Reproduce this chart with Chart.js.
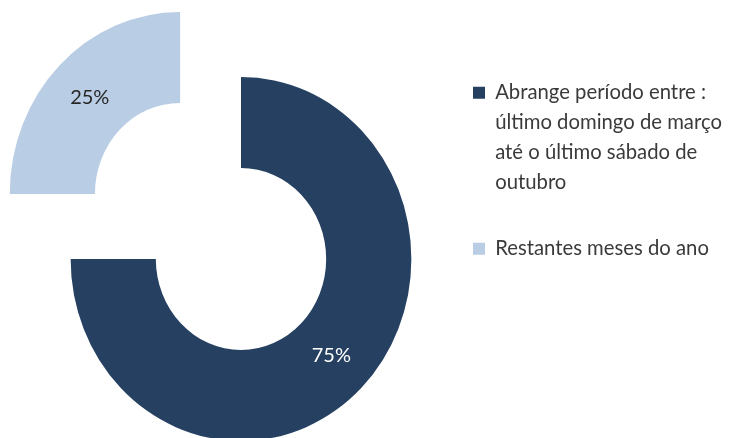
<!DOCTYPE html>
<html>
<head>
<meta charset="utf-8">
<script src="https://cdn.jsdelivr.net/npm/chart.js@4.4.1/dist/chart.umd.min.js"></script>
<style>
  html, body { margin: 0; padding: 0; background: #ffffff; overflow: hidden; }
  #wrap { position: relative; width: 741px; height: 438px; overflow: hidden; }
  #wrap canvas { position: absolute; left: 0; top: 0; }
</style>
</head>
<body>
<div id="wrap"><canvas id="chart" width="741" height="480"></canvas></div>
<script>
// Categories (legend entries; the first one spans several lines)
const categories = [
  ['Abrange período entre :', 'último domingo de março', 'até o último sábado de', 'outubro'],
  'Restantes meses do ano'
];
// Share of the year, in percent
const shares = [75, 25];
const sliceColors = ['#254061', '#B9CDE5'];
const valueLabelColors = ['#FFFFFF', '#262626'];
// Pull-out distance of each slice (Chart.js arc offset)
const sliceOffsets = [0, 368];

// Horizontal compression of the ring (slightly oval doughnut)
const X_SQUASH = 0.936;

const ovalRing = {
  id: 'ovalRing',
  beforeDatasetsDraw(chart) {
    const ctx = chart.ctx;
    const a = chart.chartArea;
    const cx = (a.left + a.right) / 2;
    ctx.save();
    ctx.translate(cx, 0);
    ctx.scale(X_SQUASH, 1);
    ctx.translate(-cx, 0);
  },
  afterDatasetsDraw(chart) {
    const ctx = chart.ctx;
    ctx.restore();
    const a = chart.chartArea;
    const cx = (a.left + a.right) / 2;
    const meta = chart.getDatasetMeta(0);
    const values = chart.data.datasets[0].data;
    ctx.save();
    ctx.font = '20px Lato';
    ctx.textAlign = 'center';
    ctx.textBaseline = 'middle';
    meta.data.forEach((arc, i) => {
      const p = arc.getProps(['x', 'y', 'startAngle', 'endAngle', 'innerRadius', 'outerRadius'], true);
      const mid = (p.startAngle + p.endAngle) / 2;
      const r = (p.innerRadius + p.outerRadius) / 2 + (arc.options.offset || 0) / 4;
      const x = cx + (p.x + Math.cos(mid) * r - cx) * X_SQUASH;
      const y = p.y + Math.sin(mid) * r;
      ctx.fillStyle = valueLabelColors[i];
      ctx.fillText(values[i] + '%', x, y);
    });
    ctx.restore();
  }
};

new Chart(document.getElementById('chart'), {
  type: 'doughnut',
  data: {
    labels: categories,
    datasets: [{
      data: shares,
      backgroundColor: sliceColors,
      borderWidth: 0,
      offset: sliceOffsets,
      clip: false
    }]
  },
  options: {
    responsive: false,
    animation: false,
    events: [],
    radius: 182,
    cutout: '50%',
    layout: {
      padding: { left: 45, right: 14, top: 46.5, bottom: 8.5 }
    },
    plugins: {
      tooltip: { enabled: false },
      legend: {
        position: 'right',
        align: 'start',
        maxWidth: 290,
        labels: {
          boxWidth: 12,
          boxHeight: 12,
          padding: 36,
          color: '#3A3A3A',
          textAlign: 'left',
          font: { family: 'Lato', size: 20.3, lineHeight: 30 / 20.3 }
        }
      }
    }
  },
  plugins: [ovalRing]
});
</script>
</body>
</html>
